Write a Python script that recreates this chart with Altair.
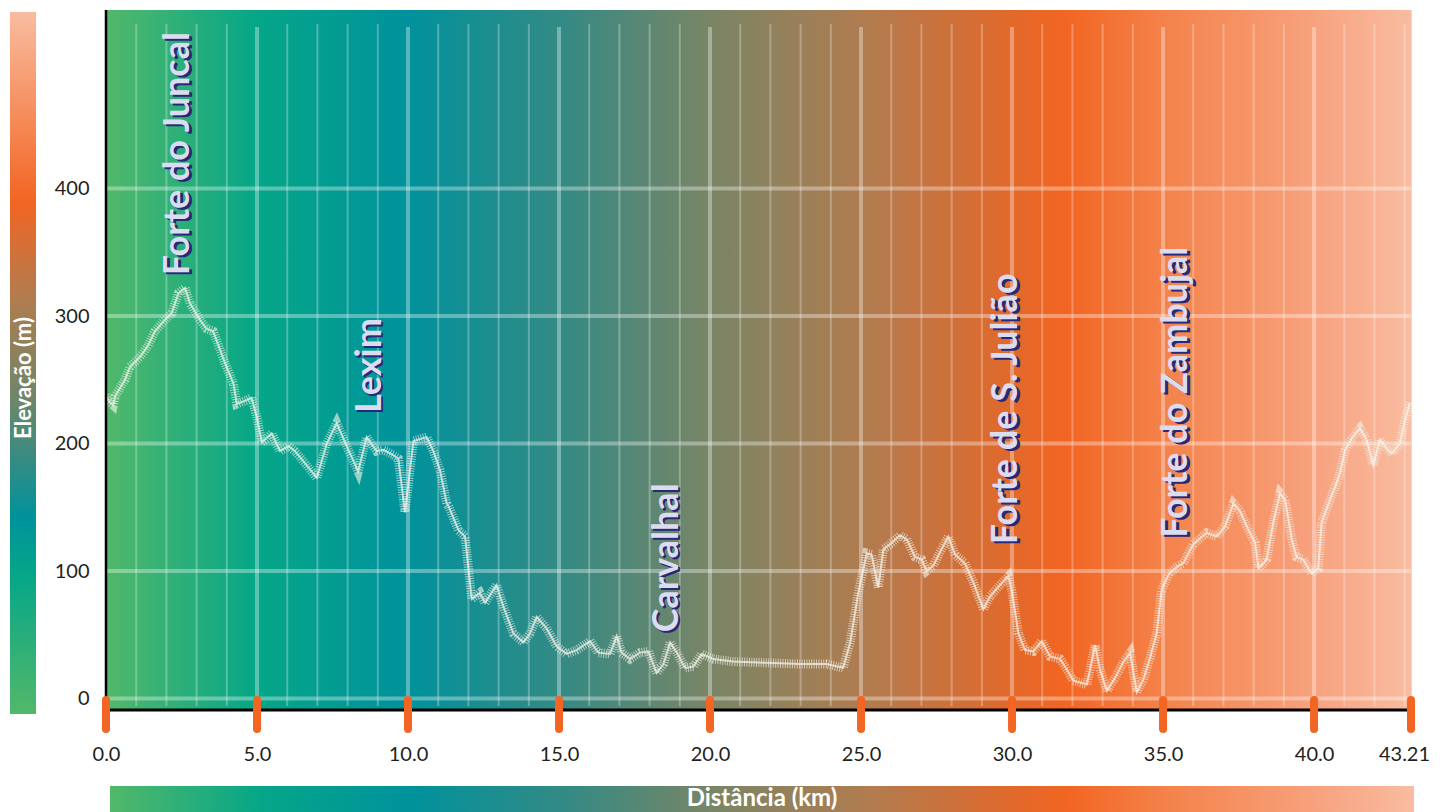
import altair as alt
import pandas as pd

# ---- profile data (km, elevation m) ----
km = [0.0, 0.1, 0.24, 0.3, 0.63, 0.79, 1.13, 1.4, 1.62, 1.95, 2.17, 2.4, 2.62, 2.78, 3.11, 3.33,
      3.55, 3.94, 4.22, 4.33, 4.66, 4.82, 4.99, 5.16, 5.49, 5.76, 6.04, 6.26, 6.64, 6.98, 7.31,
      7.64, 7.97, 8.35, 8.63, 8.96, 9.18, 9.51, 9.68, 9.9, 10.18, 10.62, 10.84, 11.06, 11.28,
      11.34, 11.67, 11.89, 12.11, 12.38, 12.55, 12.93, 13.16, 13.49, 13.82, 14.04, 14.26, 14.59,
      14.92, 15.25, 15.58, 16.03, 16.3, 16.69, 16.91, 17.07, 17.35, 17.68, 17.96, 18.23, 18.46,
      18.68, 18.9, 19.17, 19.45, 19.72, 20.11, 20.77, 21.88, 22.98, 23.86, 24.41, 24.64, 24.91,
      25.19, 25.35, 25.57, 25.74, 25.96, 26.29, 26.51, 26.79, 27.01, 27.17, 27.39, 27.62, 27.89,
      28.11, 28.44, 28.72, 29.05, 29.27, 29.6, 29.88, 29.99, 30.21, 30.43, 30.71, 30.98, 31.26,
      31.59, 31.81, 32.03, 32.48, 32.75, 32.91, 33.14, 33.41, 33.69, 33.91, 34.13, 34.35, 34.57,
      34.79, 34.95, 35.2, 35.5, 35.67, 36.0, 36.44, 36.78, 37.05, 37.33, 37.55, 37.77, 38.05,
      38.16, 38.43, 38.65, 38.87, 39.04, 39.26, 39.42, 39.64, 39.92, 40.14, 40.25, 40.53, 40.7,
      40.86, 41.03, 41.25, 41.52, 41.74, 41.96, 42.18, 42.4, 42.57, 42.84, 43.0, 43.17]
elev = [238, 233, 230, 237, 250, 260, 268, 277, 288, 297, 302, 318, 322, 310, 297, 290,
        288, 263, 247, 231, 234, 236, 221, 201, 208, 194, 198, 194, 183, 173, 200,
        216, 198, 178, 205, 194, 195, 191, 188, 146, 202, 205, 194, 179, 153,
        151, 132, 127, 78, 83, 75, 89, 72, 51, 44, 51, 64, 55,
        41, 35, 38, 45, 36, 35, 49, 36, 31, 36, 37, 20, 27,
        44, 36, 24, 25, 35, 31, 29, 28, 27, 27, 24, 44, 83,
        114, 113, 87, 117, 121, 128, 125, 111, 109, 100, 104, 115, 127,
        113, 106, 91, 70, 80, 89, 96, 85, 51, 38, 37, 45, 33,
        31, 23, 14, 11, 42, 23, 6, 16, 29, 36, 5, 15, 32,
        51, 85, 98, 104, 106, 121, 130, 127, 135, 153, 147, 135, 122,
        102, 109, 138, 161, 156, 125, 111, 109, 98, 102, 138, 156, 166,
        177, 195, 204, 212, 203, 183, 203, 196, 192, 200, 217, 232]

# ---- place labels ----
place_names = ["Forte do Juncal", "Lexim", "Carvalhal", "Forte de S. Julião", "Forte do Zambujal"]
place_km = [2.40, 8.74, 18.56, 29.8, 35.43]
place_elev = [332, 224, 52, 121, 126]

# ---- axes ----
x_ticks = [0, 5, 10, 15, 20, 25, 30, 35, 40, 43.21]
y_ticks = [0, 100, 200, 300, 400]
major_grid_km = [5, 10, 15, 20, 25, 30, 35, 40]
minor_grid_km = [k for k in range(1, 44) if k % 5 != 0]

X_MAX = 43.21
Y_DOMAIN = [-9, 540]
W, H = 1305, 700
FONT = "Lato"

grad_stops_h = [
    {"offset": 0.0, "color": "#52b86a"},
    {"offset": 0.116, "color": "#05a688"},
    {"offset": 0.23, "color": "#00929c"},
    {"offset": 0.35, "color": "#348a84"},
    {"offset": 0.46, "color": "#788566"},
    {"offset": 0.58, "color": "#b07c50"},
    {"offset": 0.69, "color": "#e0692c"},
    {"offset": 0.735, "color": "#f26522"},
    {"offset": 0.81, "color": "#f4824a"},
    {"offset": 0.925, "color": "#f7a27e"},
    {"offset": 1.0, "color": "#f9bca0"},
]
grad_h = {"gradient": "linear", "x1": 0, "x2": 1, "y1": 0, "y2": 0, "stops": grad_stops_h}
grad_v = {"gradient": "linear", "x1": 0, "x2": 0, "y1": 0, "y2": 1, "stops": [
    {"offset": 0.0, "color": "#f9bca0"},
    {"offset": 0.27, "color": "#f26522"},
    {"offset": 0.41, "color": "#b07c50"},
    {"offset": 0.55, "color": "#6f8668"},
    {"offset": 0.72, "color": "#00929c"},
    {"offset": 0.80, "color": "#05a688"},
    {"offset": 1.0, "color": "#52b86a"},
]}

profile = pd.DataFrame({"km": km, "elev": elev})
places = pd.DataFrame({"name": place_names, "km": place_km, "elev": place_elev})
xt = pd.DataFrame({"km": x_ticks})
yt = pd.DataFrame({"elev": y_ticks})
majors = pd.DataFrame({"km": major_grid_km})
minors = pd.DataFrame({"km": minor_grid_km})
bg = pd.DataFrame({"km": [0.0], "km2": [X_MAX], "elev": [Y_DOMAIN[0]], "elev2": [Y_DOMAIN[1]]})
one = alt.Data(values=[{"a": 1}])

xscale = alt.Scale(domain=[0, X_MAX], nice=False, zero=False)
yscale = alt.Scale(domain=Y_DOMAIN, nice=False, zero=False)
xaxis = alt.Axis(values=x_ticks, title=None, grid=False, domain=False, ticks=False,
                 labelExpr="datum.value == 43.21 ? '43.21' : format(datum.value, '.1f')",
                 labelOffset=alt.ExprRef(expr="datum.value == 43.21 ? -7 : 0"),
                 labelFont=FONT, labelFontSize=20, labelColor="#231f20", labelPadding=34,
                 labelFlush=False, labelOverlap=False)
yaxis = alt.Axis(values=y_ticks, title=None, grid=False, domain=False, ticks=False,
                 labelFont=FONT, labelFontSize=20, labelColor="#231f20", labelPadding=17,
                 labelOverlap=False)
X = alt.X("km:Q", scale=xscale, axis=xaxis)
Y = alt.Y("elev:Q", scale=yscale, axis=yaxis)

background = alt.Chart(bg).mark_rect(color=grad_h).encode(
    x=X, x2="km2:Q", y=Y, y2="elev2:Q")

minor_grid = alt.Chart(minors).mark_rule(color="white", opacity=0.28, strokeWidth=2).encode(
    x=X, y=alt.value(14), y2=alt.value(696))
major_grid = alt.Chart(majors).mark_rule(color="white", opacity=0.35, strokeWidth=4).encode(
    x=X, y=alt.value(17), y2=alt.value(696))
h_grid = alt.Chart(yt).mark_rule(color="white", opacity=0.35, strokeWidth=4).encode(
    y=Y, x=alt.value(0), x2=alt.value(W))

line_wide = alt.Chart(profile).mark_line(color="#f4f4ea", strokeWidth=9, opacity=0.62,
                                         strokeDash=[1, 1.4]).encode(x=X, y=Y)
line_core = alt.Chart(profile).mark_line(color="#f6f6ee", strokeWidth=2, opacity=0.7).encode(x=X, y=Y)

shadow = alt.Chart(places).mark_text(angle=270, align="left", baseline="middle", font=FONT,
                                     fontWeight="bold", fontSize=36, color="#27287a",
                                     dx=-2, dy=2.5).encode(x=X, y=Y, text="name:N")
labels = alt.Chart(places).mark_text(angle=270, align="left", baseline="middle", font=FONT,
                                     fontWeight="bold", fontSize=36, color="#dcdcef").encode(
    x=X, y=Y, text="name:N")

axis_left = alt.Chart(one).mark_rule(color="black", strokeWidth=2.5).encode(
    x=alt.value(0), y=alt.value(0), y2=alt.value(H))
axis_bottom = alt.Chart(one).mark_rule(color="black", strokeWidth=3).encode(
    y=alt.value(H), x=alt.value(0), x2=alt.value(W + 1))

orange_ticks = alt.Chart(xt).mark_rule(color="#f26522", strokeWidth=8, strokeCap="round").encode(
    x=X, y=alt.value(690), y2=alt.value(719))

left_bar = alt.Chart(one).mark_rect(color=grad_v).encode(
    x=alt.value(-96), x2=alt.value(-70), y=alt.value(2), y2=alt.value(704))
left_title = alt.Chart(one).mark_text(angle=270, align="center", baseline="middle", font=FONT,
                                      fontWeight="bold", fontSize=22, color="white").encode(
    x=alt.value(-82), y=alt.value(368), text=alt.value("Elevação (m)"))
bottom_bar = alt.Chart(one).mark_rect(color=grad_h).encode(
    x=alt.value(4), x2=alt.value(1308), y=alt.value(776), y2=alt.value(802))
bottom_title = alt.Chart(one).mark_text(align="center", baseline="middle", font=FONT,
                                        fontWeight="bold", fontSize=24, color="white").encode(
    x=alt.value(656), y=alt.value(789), text=alt.value("Distância (km)"))

chart = alt.layer(
    background, minor_grid, major_grid, h_grid, line_wide, line_core, shadow, labels,
    axis_left, axis_bottom, orange_ticks, left_bar, left_title, bottom_bar, bottom_title
).properties(
    width=W, height=H,
    autosize=alt.AutoSizeParams(type="none"),
    padding={"left": 98, "top": 2, "right": 21, "bottom": 102},
).configure_view(stroke=None).configure(background="white")

chart.save("out.html", embed_options={"renderer": "svg", "actions": False})
